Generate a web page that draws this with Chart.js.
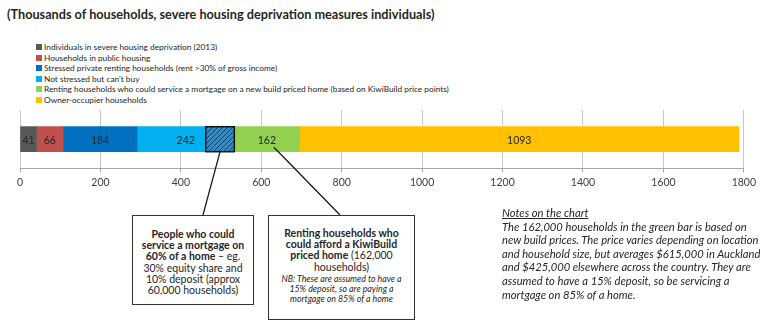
<!DOCTYPE html>
<html>
<head>
<meta charset="utf-8">
<script src="https://cdn.jsdelivr.net/npm/chart.js@4.4.1/dist/chart.umd.min.js"></script>
<style>
  body { margin: 0; width: 760px; height: 326px; background: #fff; position: relative; overflow: hidden;
         font-family: Lato, "Open Sans", sans-serif; color: #262626; }
  #title { position: absolute; left: 7px; top: 6px; font-weight: bold; font-size: 12.7px; white-space: nowrap; }
  #legend { position: absolute; left: 36px; top: 42px; font-size: 8.3px; line-height: 10.6px; }
  #legend div { white-space: nowrap; }
  #legend span { display: inline-block; width: 6px; height: 6px; margin-right: 2px; }
  #wrap { position: absolute; left: 0; top: 0; width: 760px; height: 326px; }
  .box { position: absolute; box-sizing: border-box; border: 1.5px solid #333; background: #fff;
         text-align: center; z-index: 2; white-space: nowrap; }
  #box1 { left: 132px; top: 215px; width: 122px; height: 90px; padding-top: 13px; font-size: 10.5px; line-height: 11.2px; }
  #box2 { left: 268px; top: 215px; width: 147px; height: 105px; padding-top: 12px; font-size: 10.5px; line-height: 11.2px; }
  #box2 .nb { font-style: italic; font-size: 8.8px; line-height: 10px; margin-top: 1px; }
  #notes { position: absolute; left: 502px; top: 206px; font-style: italic; font-size: 11.2px; line-height: 13.6px; white-space: nowrap; }
  #notes u { text-decoration: underline; }
</style>
</head>
<body>
<div id="title">(Thousands of households, severe housing deprivation measures individuals)</div>
<div id="legend"></div>
<div id="wrap"><canvas id="chart"></canvas></div>

<div class="box" id="box1"><b>People who could<br>service a mortgage on<br>60% of a home</b> – eg.<br>30% equity share and<br>10% deposit (approx<br>60,000 households)</div>
<div class="box" id="box2"><b>Renting households who<br>could afford a KiwiBuild<br>priced home</b> (162,000<br>households)<div class="nb">NB: These are assumed to have a<br>15% deposit, so are paying a<br>mortgage on 85% of a home</div></div>

<div id="notes"><u>Notes on the chart</u><br>The 162,000 households in the green bar is based on<br>new build prices. The price varies depending on location<br>and household size, but averages $615,000 in Auckland<br>and $425,000 elsewhere across the country. They are<br>assumed to have a 15% deposit, so be servicing a<br>mortgage on 85% of a home.</div>

<script>
// ---------------- DATA ----------------
const categories = [""];
const seriesNames = [
  "Individuals in severe housing deprivation (2013)",
  "Households in public housing",
  "Stressed private renting households (rent >30% of gross income)",
  "Not stressed but can't buy",
  "Renting households who could service a mortgage on a new build priced home (based on KiwiBuild price points)",
  "Owner-occupier households"
];
const seriesValues = [41, 66, 184, 242, 162, 1093];
const seriesColors = ["#595959", "#C0504D", "#0070C0", "#00B0F0", "#92D050", "#FFC000"];
const xTicks = [0, 200, 400, 600, 800, 1000, 1200, 1400, 1600, 1800];
// hatched overlay: people who could service a mortgage on 60% of a home
const hatchRange = [462, 533];

// ---------------- LEGEND (html) ----------------
const legend = document.getElementById("legend");
seriesNames.forEach((name, i) => {
  legend.insertAdjacentHTML("beforeend",
    `<div><span style="background:${seriesColors[i]}"></span>${name}</div>`);
});

// ---------------- HATCH PATTERN ----------------
function makeHatch() {
  const c = document.createElement("canvas");
  c.width = 5; c.height = 5;
  const g = c.getContext("2d");
  g.fillStyle = "#2f8cc4";
  g.fillRect(0, 0, 5, 5);
  g.strokeStyle = "#17405f";
  g.lineWidth = 1;
  g.beginPath();
  g.moveTo(0, 5); g.lineTo(5, 0);
  g.moveTo(-1, 1); g.lineTo(1, -1);
  g.moveTo(4, 6); g.lineTo(6, 4);
  g.stroke();
  return g.createPattern(c, "repeat");
}

// ---------------- PLUGIN: hatch, labels, callout lines ----------------
const extras = {
  id: "extras",
  afterDatasetsDraw(chart) {
    const ctx = chart.ctx;
    const xs = chart.scales.x;
    const bar = chart.getDatasetMeta(0).data[0];
    const top = bar.y - bar.height / 2;

    // hatched box
    const x0 = xs.getPixelForValue(hatchRange[0]);
    const x1 = xs.getPixelForValue(hatchRange[1]);
    ctx.save();
    ctx.fillStyle = makeHatch();
    ctx.fillRect(x0, top, x1 - x0, bar.height);
    ctx.strokeStyle = "#111";
    ctx.lineWidth = 1.5;
    ctx.strokeRect(x0, top, x1 - x0, bar.height);

    // value labels
    ctx.font = "10.5px Lato";
    ctx.fillStyle = "#262626";
    ctx.textAlign = "center";
    ctx.textBaseline = "middle";
    chart.data.datasets.forEach((ds, i) => {
      const el = chart.getDatasetMeta(i).data[0];
      ctx.fillText(ds.data[0], (el.x + el.base) / 2, el.y + 1);
    });

    // callout lines
    ctx.strokeStyle = "#1a1a1a";
    ctx.lineWidth = 1.3;
    ctx.beginPath();
    ctx.moveTo((x0 + x1) / 2, top + bar.height);
    ctx.lineTo(203, 215);
    const g = chart.getDatasetMeta(4).data[0];
    ctx.moveTo((g.x + g.base) / 2 + 7, g.y + 8);
    ctx.lineTo(340, 215);
    ctx.stroke();
    ctx.restore();
  }
};

// ---------------- CHART ----------------
new Chart(document.getElementById("chart"), {
  type: "bar",
  data: {
    labels: categories,
    datasets: seriesNames.map((name, i) => ({
      label: name,
      data: [seriesValues[i]],
      backgroundColor: seriesColors[i],
      barThickness: 25
    }))
  },
  options: {
    indexAxis: "y",
    responsive: true,
    maintainAspectRatio: false,
    animation: false,
    layout: { padding: { left: 20, right: 7, top: 110, bottom: 133 } },
    plugins: {
      legend: { display: false },
      tooltip: { enabled: false }
    },
    scales: {
      x: {
        stacked: true,
        min: 0,
        max: 1800,
        afterBuildTicks: (axis) => { axis.ticks = xTicks.map(v => ({ value: v })); },
        ticks: {
          color: "#404040",
          font: { family: "Lato", size: 10.5 },
          padding: 4,
          callback: (v) => String(v)
        },
        grid: { color: "#c8c8c8", tickColor: "#a6a6a6", tickLength: 4 },
        border: { color: "#a6a6a6" }
      },
      y: { stacked: true, display: false }
    }
  },
  plugins: [extras]
});
</script>
</body>
</html>
